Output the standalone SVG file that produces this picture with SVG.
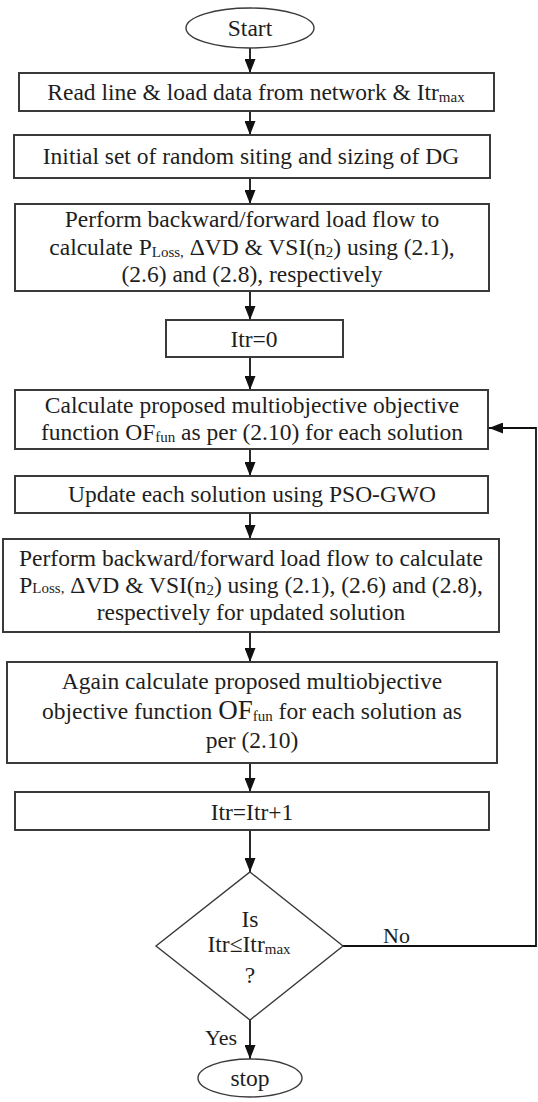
<svg xmlns="http://www.w3.org/2000/svg" width="538" height="1102" viewBox="0 0 538 1102">
<defs>
<style>
.box{fill:#fff;stroke:#3a3a3a;stroke-width:2}
.term{fill:#fff;stroke:#3a3a3a;stroke-width:1.4}
.t{font-family:"Liberation Serif","Times New Roman",serif;font-size:23.5px;fill:#1e1e1e;text-anchor:middle}
.lbl{font-family:"Liberation Serif","Times New Roman",serif;font-size:22px;fill:#1e1e1e}
.con{fill:none;stroke:#111;stroke-width:1.8}
</style>
<marker id="ah" markerUnits="userSpaceOnUse" markerWidth="14" markerHeight="11" refX="14" refY="5.5" orient="auto">
<path d="M0,0 L14,5.5 L0,11 z" fill="#111"/>
</marker>
</defs>
<rect width="538" height="1102" fill="#fff"/>

<g id="connectors">
<line class="con" x1="250" y1="48" x2="250" y2="73" marker-end="url(#ah)"/>
<line class="con" x1="250" y1="111" x2="250" y2="135" marker-end="url(#ah)"/>
<line class="con" x1="250" y1="178" x2="250" y2="204" marker-end="url(#ah)"/>
<line class="con" x1="250" y1="291" x2="250" y2="320" marker-end="url(#ah)"/>
<line class="con" x1="250" y1="357" x2="250" y2="390" marker-end="url(#ah)"/>
<line class="con" x1="250" y1="449" x2="250" y2="476" marker-end="url(#ah)"/>
<line class="con" x1="250" y1="513" x2="250" y2="539" marker-end="url(#ah)"/>
<line class="con" x1="250" y1="632" x2="250" y2="662" marker-end="url(#ah)"/>
<line class="con" x1="250" y1="763" x2="250" y2="792" marker-end="url(#ah)"/>
<line class="con" x1="250" y1="830" x2="250" y2="872" marker-end="url(#ah)"/>
<line class="con" x1="250" y1="1020" x2="250" y2="1059" marker-end="url(#ah)"/>
<polyline class="con" points="343,946 536,946 536,428 489,428" marker-end="url(#ah)"/>
<text class="lbl" x="383" y="943">No</text>
<text class="lbl" x="237" y="1045" text-anchor="end">Yes</text>
</g>

<g id="start">
<ellipse class="term" cx="250" cy="28" rx="64" ry="20"/>
<text class="t" x="250" y="36" font-size="22">Start</text>
</g>

<g id="read-data">
<rect class="box" x="19" y="73" width="475" height="38"/>
<text class="t" x="256" y="100">Read line &amp; load data from network &amp; Itr<tspan font-size="15" dy="2">max</tspan></text>
</g>

<g id="initial-set">
<rect class="box" x="14" y="135" width="476" height="43"/>
<text class="t" x="251" y="164">Initial set of random siting and sizing of DG</text>
</g>

<g id="load-flow-1">
<rect class="box" x="15" y="204" width="474" height="87"/>
<text class="t" x="252" y="227">Perform  backward/forward load flow to</text>
<text class="t" x="252" y="255">calculate P<tspan font-size="15" dy="2">Loss,</tspan><tspan dy="-2"> ΔVD &amp; VSI(n</tspan><tspan font-size="15" dy="2">2</tspan><tspan dy="-2">) using (2.1),</tspan></text>
<text class="t" x="252" y="282">(2.6) and (2.8), respectively</text>
</g>

<g id="itr-init">
<rect class="box" x="166" y="320" width="177" height="37"/>
<text class="t" x="254" y="347">Itr=0</text>
</g>

<g id="calc-of">
<rect class="box" x="15" y="390" width="473" height="59"/>
<text class="t" x="252" y="413">Calculate proposed multiobjective objective</text>
<text class="t" x="252" y="440">function OF<tspan font-size="15" dy="2">fun</tspan><tspan dy="-2"> as per (2.10) for each solution</tspan></text>
</g>

<g id="update">
<rect class="box" x="15" y="476" width="473" height="37"/>
<text class="t" x="252" y="502">Update each solution using PSO-GWO</text>
</g>

<g id="load-flow-2">
<rect class="box" x="3" y="539" width="496" height="93"/>
<text class="t" x="251" y="566">Perform  backward/forward load flow to calculate</text>
<text class="t" x="251" y="593">P<tspan font-size="15">Loss,</tspan> ΔVD &amp; VSI(n<tspan font-size="15" dy="2">2</tspan><tspan dy="-2">) using (2.1), (2.6) and (2.8),</tspan></text>
<text class="t" x="251" y="620">respectively for updated solution</text>
</g>

<g id="recalc-of">
<rect class="box" x="7" y="662" width="490" height="101"/>
<text class="t" x="252" y="689">Again calculate proposed multiobjective</text>
<text class="t" x="252" y="719">objective function <tspan font-size="27">OF</tspan><tspan font-size="15" dy="2">fun</tspan><tspan dy="-2"> for each solution as</tspan></text>
<text class="t" x="252" y="748">per (2.10)</text>
</g>

<g id="itr-inc">
<rect class="box" x="15" y="792" width="474" height="38"/>
<text class="t" x="252" y="820">Itr=Itr+1</text>
</g>

<g id="decision">
<polygon class="term" points="250,872 343,946 250,1020 156,946"/>
<text class="t" x="250" y="927" font-size="22">Is</text>
<text class="t" x="249" y="952" font-size="22">Itr≤Itr<tspan font-size="15" dy="2">max</tspan></text>
<text class="t" x="250" y="983" font-size="22">?</text>
</g>

<g id="stop">
<ellipse class="term" cx="250" cy="1078" rx="52" ry="19"/>
<text class="t" x="250" y="1086" font-size="22">stop</text>
</g>
</svg>
